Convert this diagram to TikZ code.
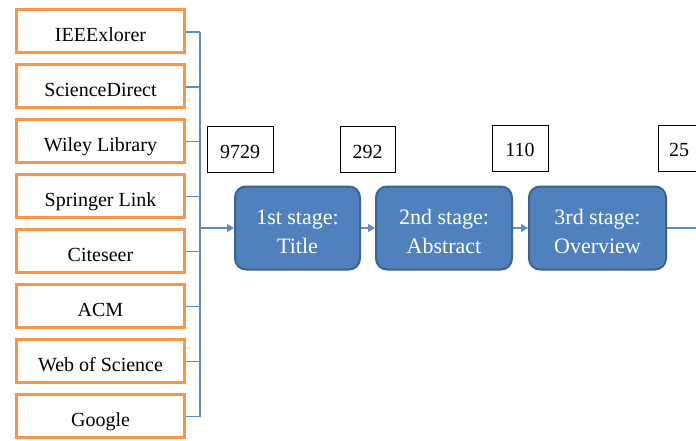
\documentclass[tikz,border=0pt]{standalone}
\usepackage{fontspec}
\setmainfont{Liberation Serif}
\usetikzlibrary{arrows.meta}
\definecolor{orng}{HTML}{F79646}
\definecolor{lnblue}{HTML}{5B8BC9}
\definecolor{stfill}{HTML}{4F81BD}
\definecolor{stdraw}{HTML}{3A6292}
\begin{document}
\begin{tikzpicture}[x=1pt,y=1pt,
  src/.style={draw=orng,line width=3pt,minimum width=168pt,minimum height=43pt,inner sep=0pt,text height=21pt,text depth=0pt,font=\fontsize{20}{24}\selectfont},
  stagebox/.style={draw=stdraw,fill=stfill,line width=2pt,rounded corners=11pt,minimum height=83pt,inner sep=0pt,text height=51.6pt,text depth=0pt,text=white,align=center,font=\fontsize{22}{29}\selectfont},
  numbox/.style={draw=black,line width=0.9pt,minimum height=46pt,inner sep=0pt,text height=17pt,text depth=0pt,font=\fontsize{20}{24}\selectfont},
  conn/.style={draw=lnblue,line width=1.2pt},
  arr/.style={conn,-{Triangle[length=7pt,width=8pt]}}]
\useasboundingbox (0,0) rectangle (696,-441);
\clip (0,0) rectangle (696,-441);
\foreach \t [count=\i from 0] in {IEEExlorer,ScienceDirect,Wiley Library,Springer Link,Citeseer,ACM,Web of Science,Google}{
  \node[src] (s\i) at (100.5,{-31-54.93*\i}) {\t};
  \coordinate (j\i) at (200,{-32-54.93*\i});
  \draw[conn] (s\i.east |- j\i) -- (j\i);
}
\draw[conn] (j0) -- (j7);
\coordinate (split) at (200,-228);
\node[stagebox,minimum width=125pt] (st1) at (297.5,-228) {1st stage:\\Title};
\node[stagebox,minimum width=136pt] (st2) at (444,-228) {2nd stage:\\Abstract};
\node[stagebox,minimum width=137pt] (st3) at (597.5,-228) {3rd stage:\\Overview};
\coordinate (out) at (700,-228);
\draw[arr] (split) -- (st1);
\draw[arr] (st1) -- (st2);
\draw[arr] (st2) -- (st3);
\draw[conn] (st3) -- (out);
\node[numbox,minimum width=66pt] (n1) at (240,-149.5) {9729};
\node[numbox,minimum width=55pt] (n2) at (367.5,-149.5) {292};
\node[numbox,minimum width=56pt] (n3) at (520,-148.5) {110};
\node[numbox,minimum width=56pt] (n4) at (686,-148.5) {25\hspace*{14pt}};
\end{tikzpicture}
\end{document}
